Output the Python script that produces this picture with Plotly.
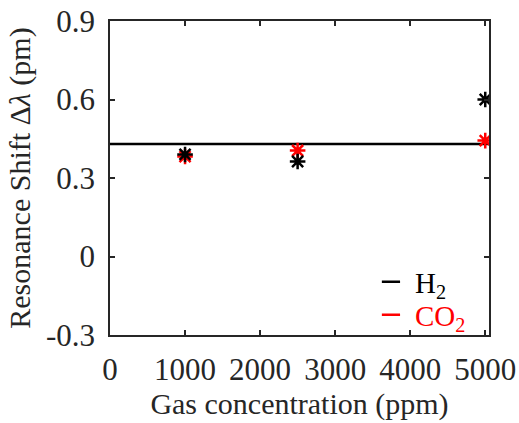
import plotly.graph_objects as go

concentration = [1000, 2500, 5000]
h2_shift = [0.39, 0.363, 0.600]
co2_shift = [0.382, 0.405, 0.443]
baseline = 0.43
x_range = [0, 5050]
y_range = [-0.3, 0.9]
y_ticks = [-0.3, 0, 0.3, 0.6, 0.9]
y_ticktext = ["-0.3", "0", "0.3", "0.6", "0.9"]
x_ticks = [0, 1000, 2000, 3000, 4000, 5000]

FONT = "Liberation Serif, Times New Roman, serif"
INK = "#262626"

fig = go.Figure()
fig.add_trace(go.Scatter(x=x_range, y=[baseline, baseline], mode="lines",
                         line=dict(color="black", width=2.5), showlegend=False))
fig.add_trace(go.Scatter(x=concentration, y=co2_shift, mode="markers",
                         marker=dict(symbol="asterisk-open", size=13, color="red",
                                     line=dict(color="red", width=2.5)),
                         showlegend=False))
fig.add_trace(go.Scatter(x=concentration, y=h2_shift, mode="markers",
                         marker=dict(symbol="asterisk-open", size=13, color="black",
                                     line=dict(color="black", width=2.5)),
                         showlegend=False))
# legend entries (short dash symbols)
fig.add_trace(go.Scatter(x=[None], y=[None], mode="markers", name="H<sub>2</sub>", legend="legend",
                         marker=dict(symbol="line-ew-open", size=13, color="black",
                                     line=dict(color="black", width=2.5))))
fig.add_trace(go.Scatter(x=[None], y=[None], mode="markers", name="CO<sub>2</sub>", legend="legend2",
                         marker=dict(symbol="line-ew-open", size=13, color="red",
                                     line=dict(color="red", width=2.5))))

axis_common = dict(showline=True, linecolor=INK, linewidth=1.5, mirror="ticks",
                   ticks="inside", ticklen=5, tickwidth=1.5, tickcolor=INK,
                   showgrid=False, zeroline=False, automargin=False,
                   tickfont=dict(family=FONT, size=31, color=INK))

leg_common = dict(xanchor="left", yanchor="middle", bgcolor="rgba(0,0,0,0)",
                  itemwidth=38, borderwidth=0)

fig.update_layout(
    width=519, height=423,
    margin=dict(l=110, r=30, t=21, b=88, autoexpand=False),
    plot_bgcolor="white", paper_bgcolor="white",
    font=dict(family=FONT, color=INK),
    xaxis=dict(range=x_range, tickvals=x_ticks, ticklabelstandoff=6, **axis_common,
               title=dict(text="Gas concentration (ppm)", font=dict(family=FONT, size=30, color=INK), standoff=6)),
    yaxis=dict(range=y_range, tickvals=y_ticks, ticktext=y_ticktext, ticklabelstandoff=7, **axis_common,
               title=dict(text="Resonance Shift Δ<i>λ</i> (pm)", font=dict(family=FONT, size=30, color=INK), standoff=6)),
    legend=dict(x=0.678, y=(335 - 282) / 314, font=dict(family=FONT, size=29, color="black"), **leg_common),
    legend2=dict(x=0.678, y=(335 - 315) / 314, font=dict(family=FONT, size=29, color="red"), **leg_common),
)

fig.write_html("out.html")
